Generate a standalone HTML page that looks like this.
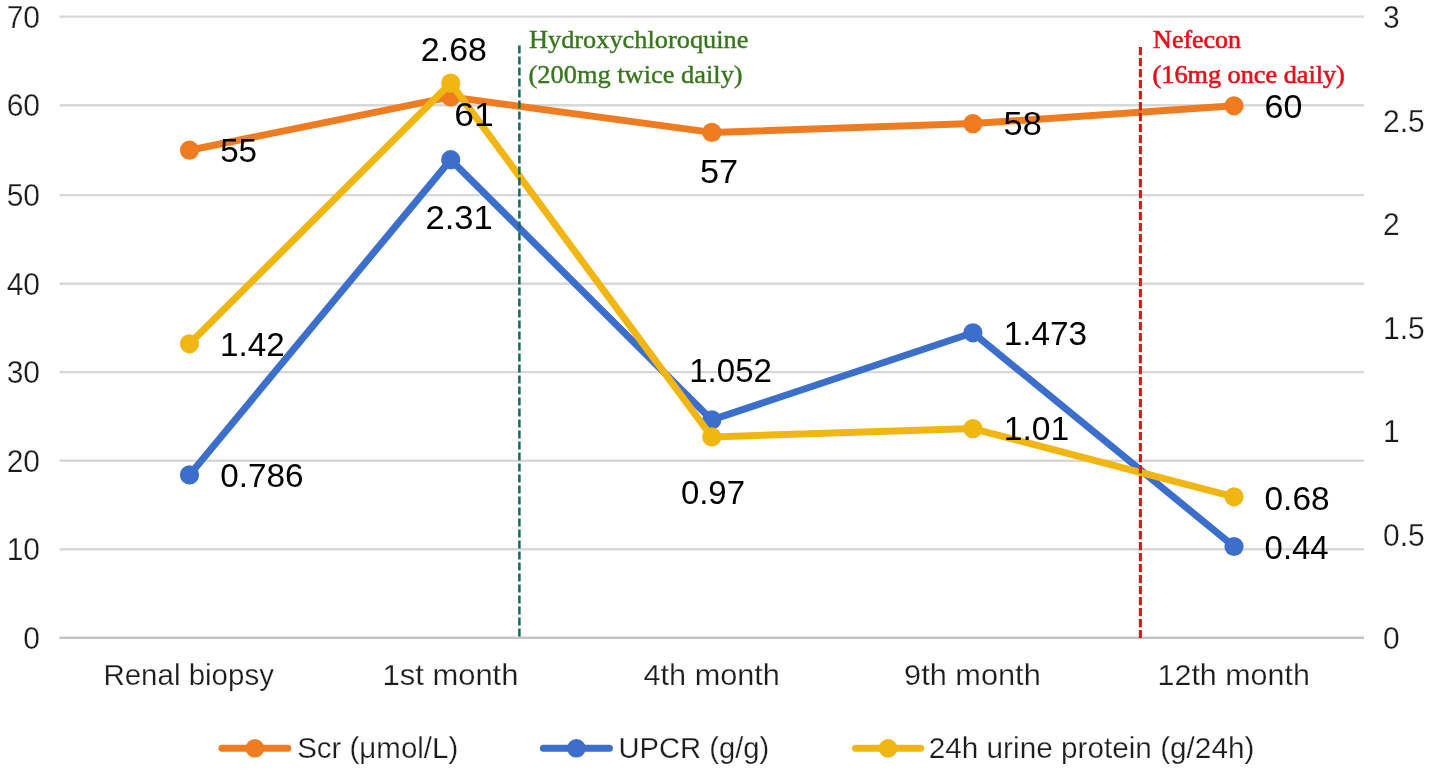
<!DOCTYPE html>
<html lang="en"><head><meta charset="utf-8"><title>Chart</title>
<style>
html,body{margin:0;padding:0;background:#fff;}
body{width:1430px;height:773px;overflow:hidden;}
svg{display:block;}
.ax{font-family:"Liberation Sans",sans-serif;font-size:30px;fill:#1c1c1c;stroke:#fff;stroke-width:0.25px;}
.dl{font-family:"Liberation Sans",sans-serif;font-size:34px;fill:#000;}
.se{font-family:"Liberation Serif",serif;font-size:25.7px;}
</style></head><body>
<svg width="1430" height="773" viewBox="0 0 1430 773">
<rect width="1430" height="773" fill="#ffffff"/>
<g stroke="#d8d8d8" stroke-width="2.4" fill="none">
<line x1="59.5" y1="637.80" x2="1364.0" y2="637.80" stroke="#c4c4c4"/>
<line x1="59.5" y1="549.20" x2="1364.0" y2="549.20"/>
<line x1="59.5" y1="460.80" x2="1364.0" y2="460.80"/>
<line x1="59.5" y1="372.10" x2="1364.0" y2="372.10"/>
<line x1="59.5" y1="283.80" x2="1364.0" y2="283.80"/>
<line x1="59.5" y1="195.10" x2="1364.0" y2="195.10"/>
<line x1="59.5" y1="105.20" x2="1364.0" y2="105.20"/>
<line x1="59.5" y1="16.60" x2="1364.0" y2="16.60"/>
</g>
<g class="ax" style="font-size:30.6px">
<text x="23.36" y="648.7" textLength="16.68" lengthAdjust="spacingAndGlyphs">0</text>
<text x="6.70" y="560.1" textLength="33.35" lengthAdjust="spacingAndGlyphs">10</text>
<text x="6.70" y="471.7" textLength="33.35" lengthAdjust="spacingAndGlyphs">20</text>
<text x="6.70" y="383.0" textLength="33.35" lengthAdjust="spacingAndGlyphs">30</text>
<text x="6.70" y="294.7" textLength="33.35" lengthAdjust="spacingAndGlyphs">40</text>
<text x="6.70" y="206.0" textLength="33.35" lengthAdjust="spacingAndGlyphs">50</text>
<text x="6.70" y="116.1" textLength="33.35" lengthAdjust="spacingAndGlyphs">60</text>
<text x="6.70" y="27.5" textLength="33.35" lengthAdjust="spacingAndGlyphs">70</text>
<text x="1383.08" y="28.0" textLength="16.68" lengthAdjust="spacingAndGlyphs">3</text>
<text x="1383.08" y="131.5" textLength="41.68" lengthAdjust="spacingAndGlyphs">2.5</text>
<text x="1383.08" y="235.0" textLength="16.68" lengthAdjust="spacingAndGlyphs">2</text>
<text x="1383.08" y="338.5" textLength="41.68" lengthAdjust="spacingAndGlyphs">1.5</text>
<text x="1383.08" y="442.0" textLength="16.68" lengthAdjust="spacingAndGlyphs">1</text>
<text x="1383.08" y="545.5" textLength="41.68" lengthAdjust="spacingAndGlyphs">0.5</text>
<text x="1383.08" y="649.0" textLength="16.68" lengthAdjust="spacingAndGlyphs">0</text>
</g>
<g>
<polyline points="189.5,150.2 450.7,96.9 711.8,132.4 972.9,123.6 1234.0,105.8" fill="none" stroke="#f07c22" stroke-width="7.0" stroke-linejoin="round" stroke-linecap="round"/>
<circle cx="189.5" cy="150.2" r="9.6" fill="#f07c22"/>
<circle cx="450.7" cy="96.9" r="9.6" fill="#f07c22"/>
<circle cx="711.8" cy="132.4" r="9.6" fill="#f07c22"/>
<circle cx="972.9" cy="123.6" r="9.6" fill="#f07c22"/>
<circle cx="1234.0" cy="105.8" r="9.6" fill="#f07c22"/>
</g>
<g>
<polyline points="189.5,474.9 450.7,159.7 711.8,419.9 972.9,332.8 1234.0,546.5" fill="none" stroke="#3c6ecb" stroke-width="7.0" stroke-linejoin="round" stroke-linecap="round"/>
<circle cx="189.5" cy="474.9" r="9.6" fill="#3c6ecb"/>
<circle cx="450.7" cy="159.7" r="9.6" fill="#3c6ecb"/>
<circle cx="711.8" cy="419.9" r="9.6" fill="#3c6ecb"/>
<circle cx="972.9" cy="332.8" r="9.6" fill="#3c6ecb"/>
<circle cx="1234.0" cy="546.5" r="9.6" fill="#3c6ecb"/>
</g>
<g>
<polyline points="189.5,343.8 450.7,83.1 711.8,436.9 972.9,428.6 1234.0,496.8" fill="none" stroke="#f2b613" stroke-width="7.0" stroke-linejoin="round" stroke-linecap="round"/>
<circle cx="189.5" cy="343.8" r="9.6" fill="#f2b613"/>
<circle cx="450.7" cy="83.1" r="9.6" fill="#f2b613"/>
<circle cx="711.8" cy="436.9" r="9.6" fill="#f2b613"/>
<circle cx="972.9" cy="428.6" r="9.6" fill="#f2b613"/>
<circle cx="1234.0" cy="496.8" r="9.6" fill="#f2b613"/>
</g>
<line x1="519.4" y1="45.4" x2="519.4" y2="638" stroke="#0f6b5b" stroke-width="2.5" stroke-dasharray="8.2 2.8"/>
<line x1="1140.4" y1="47.0" x2="1140.4" y2="638" stroke="#e6111a" stroke-width="3.1" stroke-dasharray="8.2 2.8"/>
<text class="se" x="529.03" y="48.2" textLength="219.37" lengthAdjust="spacingAndGlyphs" fill="#38761d" stroke="#38761d" stroke-width="0.4">Hydroxychloroquine</text>
<text class="se" x="528.51" y="82.7" textLength="214.18" lengthAdjust="spacingAndGlyphs" fill="#38761d" stroke="#38761d" stroke-width="0.4">(200mg twice daily)</text>
<text class="se" x="1153.14" y="48.2" textLength="87.96" lengthAdjust="spacingAndGlyphs" fill="#e6101a" stroke="#e6101a" stroke-width="0.6">Nefecon</text>
<text class="se" x="1152.62" y="82.7" textLength="192.18" lengthAdjust="spacingAndGlyphs" fill="#e6101a" stroke="#e6101a" stroke-width="0.6">(16mg once daily)</text>
<text class="dl" x="220.13" y="162.0" textLength="36.96" lengthAdjust="spacingAndGlyphs">55</text>
<text class="dl" x="454.17" y="125.6" textLength="39.47" lengthAdjust="spacingAndGlyphs">61</text>
<text class="dl" x="699.98" y="182.7" textLength="38.21" lengthAdjust="spacingAndGlyphs">57</text>
<text class="dl" x="1003.58" y="135.2" textLength="38.21" lengthAdjust="spacingAndGlyphs">58</text>
<text class="dl" x="1264.55" y="118.0" textLength="37.88" lengthAdjust="spacingAndGlyphs">60</text>
<text class="dl" x="220.28" y="487.4" textLength="83.39" lengthAdjust="spacingAndGlyphs">0.786</text>
<text class="dl" x="425.52" y="228.8" textLength="67.23" lengthAdjust="spacingAndGlyphs">2.31</text>
<text class="dl" x="689.24" y="381.7" textLength="82.71" lengthAdjust="spacingAndGlyphs">1.052</text>
<text class="dl" x="1003.82" y="345.2" textLength="83.34" lengthAdjust="spacingAndGlyphs">1.473</text>
<text class="dl" x="1264.59" y="558.8" textLength="64.12" lengthAdjust="spacingAndGlyphs">0.44</text>
<text class="dl" x="220.03" y="356.3" textLength="64.62" lengthAdjust="spacingAndGlyphs">1.42</text>
<text class="dl" x="420.86" y="60.9" textLength="65.98" lengthAdjust="spacingAndGlyphs">2.68</text>
<text class="dl" x="680.89" y="503.6" textLength="64.15" lengthAdjust="spacingAndGlyphs">0.97</text>
<text class="dl" x="1003.79" y="440.0" textLength="65.47" lengthAdjust="spacingAndGlyphs">1.01</text>
<text class="dl" x="1264.57" y="509.5" textLength="64.94" lengthAdjust="spacingAndGlyphs">0.68</text>
<text class="ax" x="103.44" y="684.8" textLength="170.44" lengthAdjust="spacingAndGlyphs">Renal biopsy</text>
<text class="ax" x="382.50" y="684.8" textLength="135.94" lengthAdjust="spacingAndGlyphs">1st month</text>
<text class="ax" x="643.43" y="684.8" textLength="136.53" lengthAdjust="spacingAndGlyphs">4th month</text>
<text class="ax" x="904.06" y="684.8" textLength="136.71" lengthAdjust="spacingAndGlyphs">9th month</text>
<text class="ax" x="1157.56" y="684.8" textLength="152.33" lengthAdjust="spacingAndGlyphs">12th month</text>
<text class="ax" x="297.13" y="758.2" textLength="161.11" lengthAdjust="spacingAndGlyphs">Scr (μmol/L)</text>
<text class="ax" x="618.51" y="758.2" textLength="150.72" lengthAdjust="spacingAndGlyphs">UPCR (g/g)</text>
<text class="ax" x="928.71" y="758.2" textLength="325.68" lengthAdjust="spacingAndGlyphs">24h urine protein (g/24h)</text>
<line x1="222.0" y1="748.3" x2="287.8" y2="748.3" stroke="#f07c22" stroke-width="7.0" stroke-linecap="round"/>
<circle cx="254.9" cy="748.3" r="9.299999999999999" fill="#f07c22"/>
<line x1="543.4" y1="748.3" x2="609.4" y2="748.3" stroke="#3c6ecb" stroke-width="7.0" stroke-linecap="round"/>
<circle cx="576.4" cy="748.3" r="9.299999999999999" fill="#3c6ecb"/>
<line x1="855.5" y1="748.3" x2="920.7" y2="748.3" stroke="#f2b613" stroke-width="7.0" stroke-linecap="round"/>
<circle cx="888.1" cy="748.3" r="9.299999999999999" fill="#f2b613"/>
</svg>
</body></html>
